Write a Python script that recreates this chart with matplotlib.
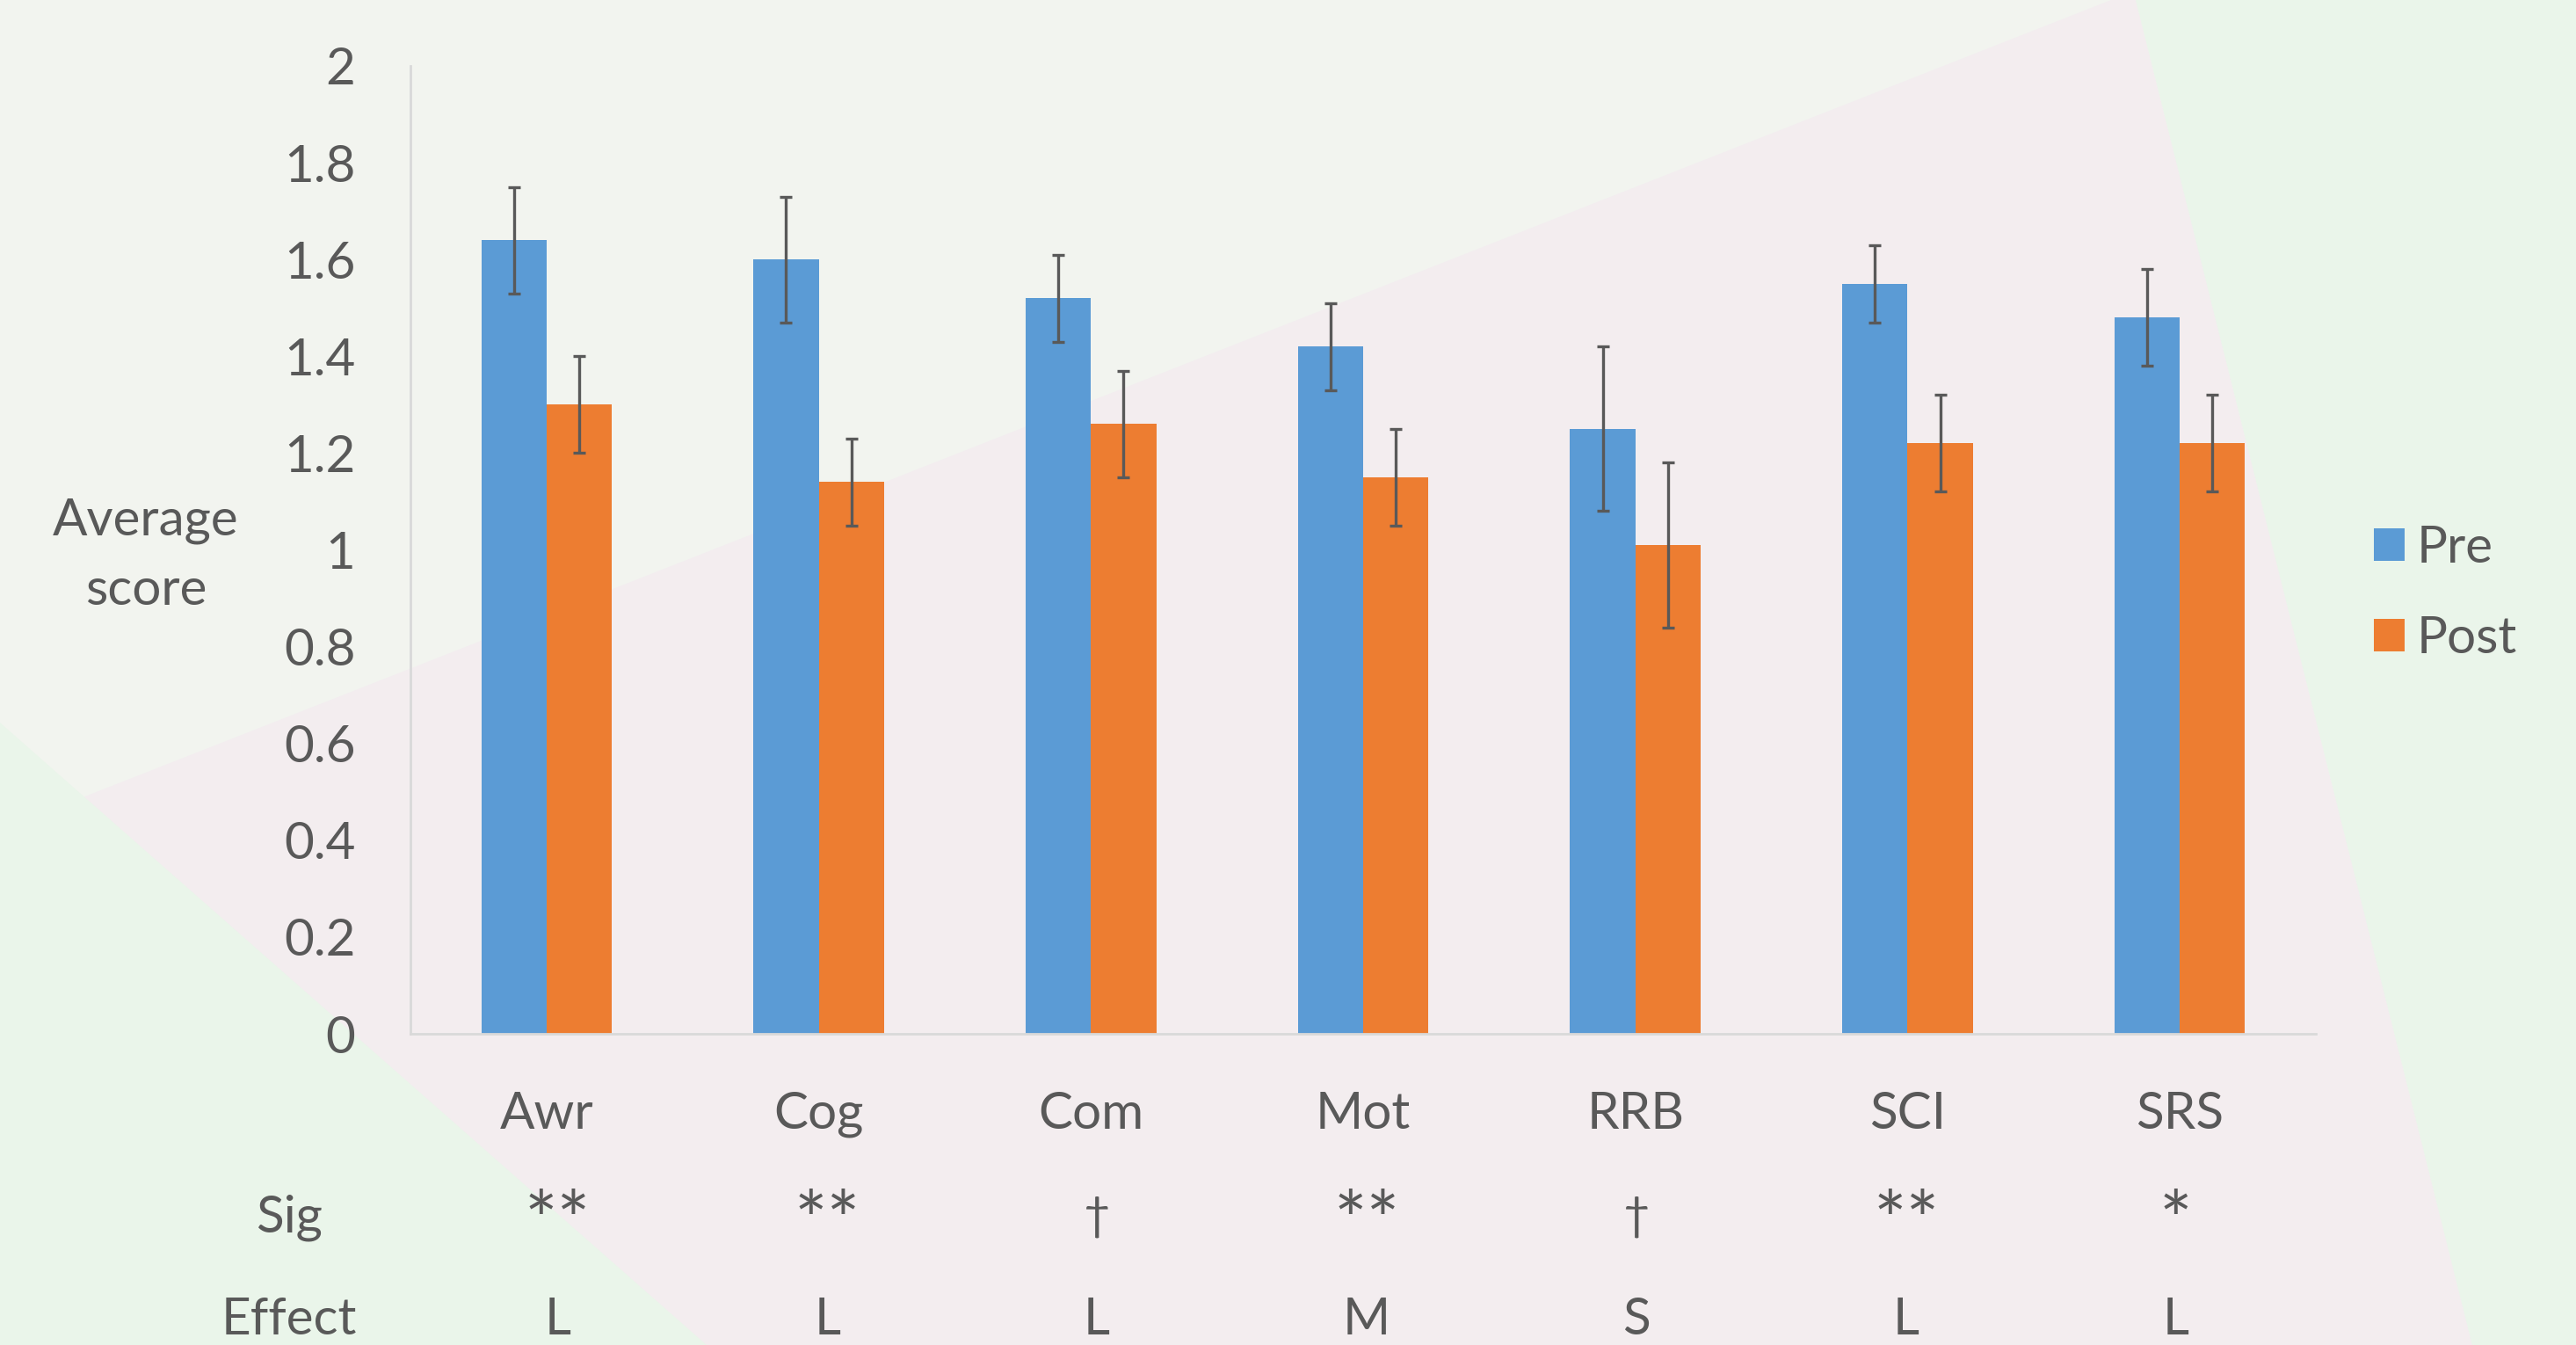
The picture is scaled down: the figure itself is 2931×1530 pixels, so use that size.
import numpy as np
import matplotlib
matplotlib.use("Agg")
from matplotlib import pyplot as plt
from matplotlib.patches import Polygon
from matplotlib.transforms import blended_transform_factory

# data
categories = ['Awr', 'Cog', 'Com', 'Mot', 'RRB', 'SCI', 'SRS']
pre = [1.64, 1.60, 1.52, 1.42, 1.25, 1.55, 1.48]
post = [1.30, 1.14, 1.26, 1.15, 1.01, 1.22, 1.22]
pre_err = [0.11, 0.13, 0.09, 0.09, 0.17, 0.08, 0.10]
post_err = [0.10, 0.09, 0.11, 0.10, 0.17, 0.10, 0.10]
sig = ['**', '**', '\u2020', '**', '\u2020', '**', '*']
effect = ['L', 'L', 'L', 'M', 'S', 'L', 'L']

W, H = 2931, 1530
TXT = '#595959'
FS = 42
plt.rcParams['font.family'] = ['Lato', 'DejaVu Sans']

fig = plt.figure(figsize=(W / 100, H / 100), dpi=100)
fig.patch.set_facecolor('#F2F4EF')

def px(pts):
    # pixel coords (top-left origin) -> figure fraction
    return [(x / W, 1 - y / H) for x, y in pts]

# background shapes
fig.patches.append(Polygon(px([(0, 944), (2402, 0), (2430, 0), (2813, 1530), (0, 1530)]),
                           closed=True, transform=fig.transFigure, fc='#F3EDEF', ec='none', zorder=-10))
fig.patches.append(Polygon(px([(0, 822), (804, 1530), (0, 1530)]),
                           closed=True, transform=fig.transFigure, fc='#EAF5EA', ec='none', zorder=-10))
fig.patches.append(Polygon(px([(2430, 0), (W, 0), (W, H), (2813, H)]),
                           closed=True, transform=fig.transFigure, fc='#EAF5EA', ec='none', zorder=-10))

ax = fig.add_axes([467 / W, 1 - 1176 / H, (2635 - 467) / W, (1176 - 75) / H])
ax.set_facecolor('none')

x = np.arange(len(categories))
bw = 0.24
eb = dict(ecolor=TXT, elinewidth=2.4, capsize=5, capthick=2.4)
ax.bar(x - bw / 2, pre, bw, yerr=pre_err, color='#5B9BD5', label='Pre', error_kw=eb)
ax.bar(x + bw / 2, post, bw, yerr=post_err, color='#ED7D31', label='Post', error_kw=eb)

ax.set_xlim(-0.5, len(categories) - 0.5)
ax.set_ylim(0, 2)
ax.set_yticks(np.arange(0, 2.01, 0.2))
ax.set_yticklabels(['0', '0.2', '0.4', '0.6', '0.8', '1', '1.2', '1.4', '1.6', '1.8', '2'])
ax.tick_params(axis='y', length=0, pad=45, labelsize=FS, labelcolor=TXT)
ax.set_xticks([])
for s in ['top', 'right']:
    ax.spines[s].set_visible(False)
ax.spines['left'].set_color('#D9D9D9')
ax.spines['bottom'].set_color('#D9D9D9')
ax.spines['left'].set_linewidth(2)
ax.spines['bottom'].set_linewidth(2)

tr = blended_transform_factory(ax.transData, fig.transFigure)
for i in range(len(categories)):
    ax.text(x[i], 1 - 1284 / H, categories[i], transform=tr, ha='center', va='baseline',
            fontsize=FS, color=TXT)
    # the Sig/Effect text boxes drift slightly left across the chart
    xo = x[i] + 0.04 - 0.009 * i
    if '*' in sig[i]:
        # Lato asterisks are small and raised; enlarge to match
        ax.text(xo, 1 - 1420 / H, sig[i], transform=tr, ha='center', va='baseline',
                fontsize=64, color=TXT)
    else:
        ax.text(xo, 1 - 1398 / H, sig[i], transform=tr, ha='center', va='baseline',
                fontsize=38, color=TXT)
    ax.text(xo, 1 - 1518 / H, effect[i], transform=tr, ha='center', va='baseline',
            fontsize=FS, color=TXT)

fig.text(329 / W, 1 - 1402 / H, 'Sig', ha='center', va='baseline', fontsize=FS, color=TXT)
fig.text(329 / W, 1 - 1518 / H, 'Effect', ha='center', va='baseline', fontsize=FS, color=TXT)
fig.text(166 / W, 1 - 632 / H, 'Average\nscore', ha='center', va='center', fontsize=FS,
         color=TXT, linespacing=1.6)

leg = fig.legend(loc='center left', bbox_to_anchor=(2648 / W, 1 - 675 / H), frameon=False,
                 fontsize=FS, handlelength=0.6, handleheight=0.6, handletextpad=0.25,
                 labelspacing=0.86)
for t in leg.get_texts():
    t.set_color(TXT)

fig.savefig('out.png', dpi=100, facecolor=fig.get_facecolor())
